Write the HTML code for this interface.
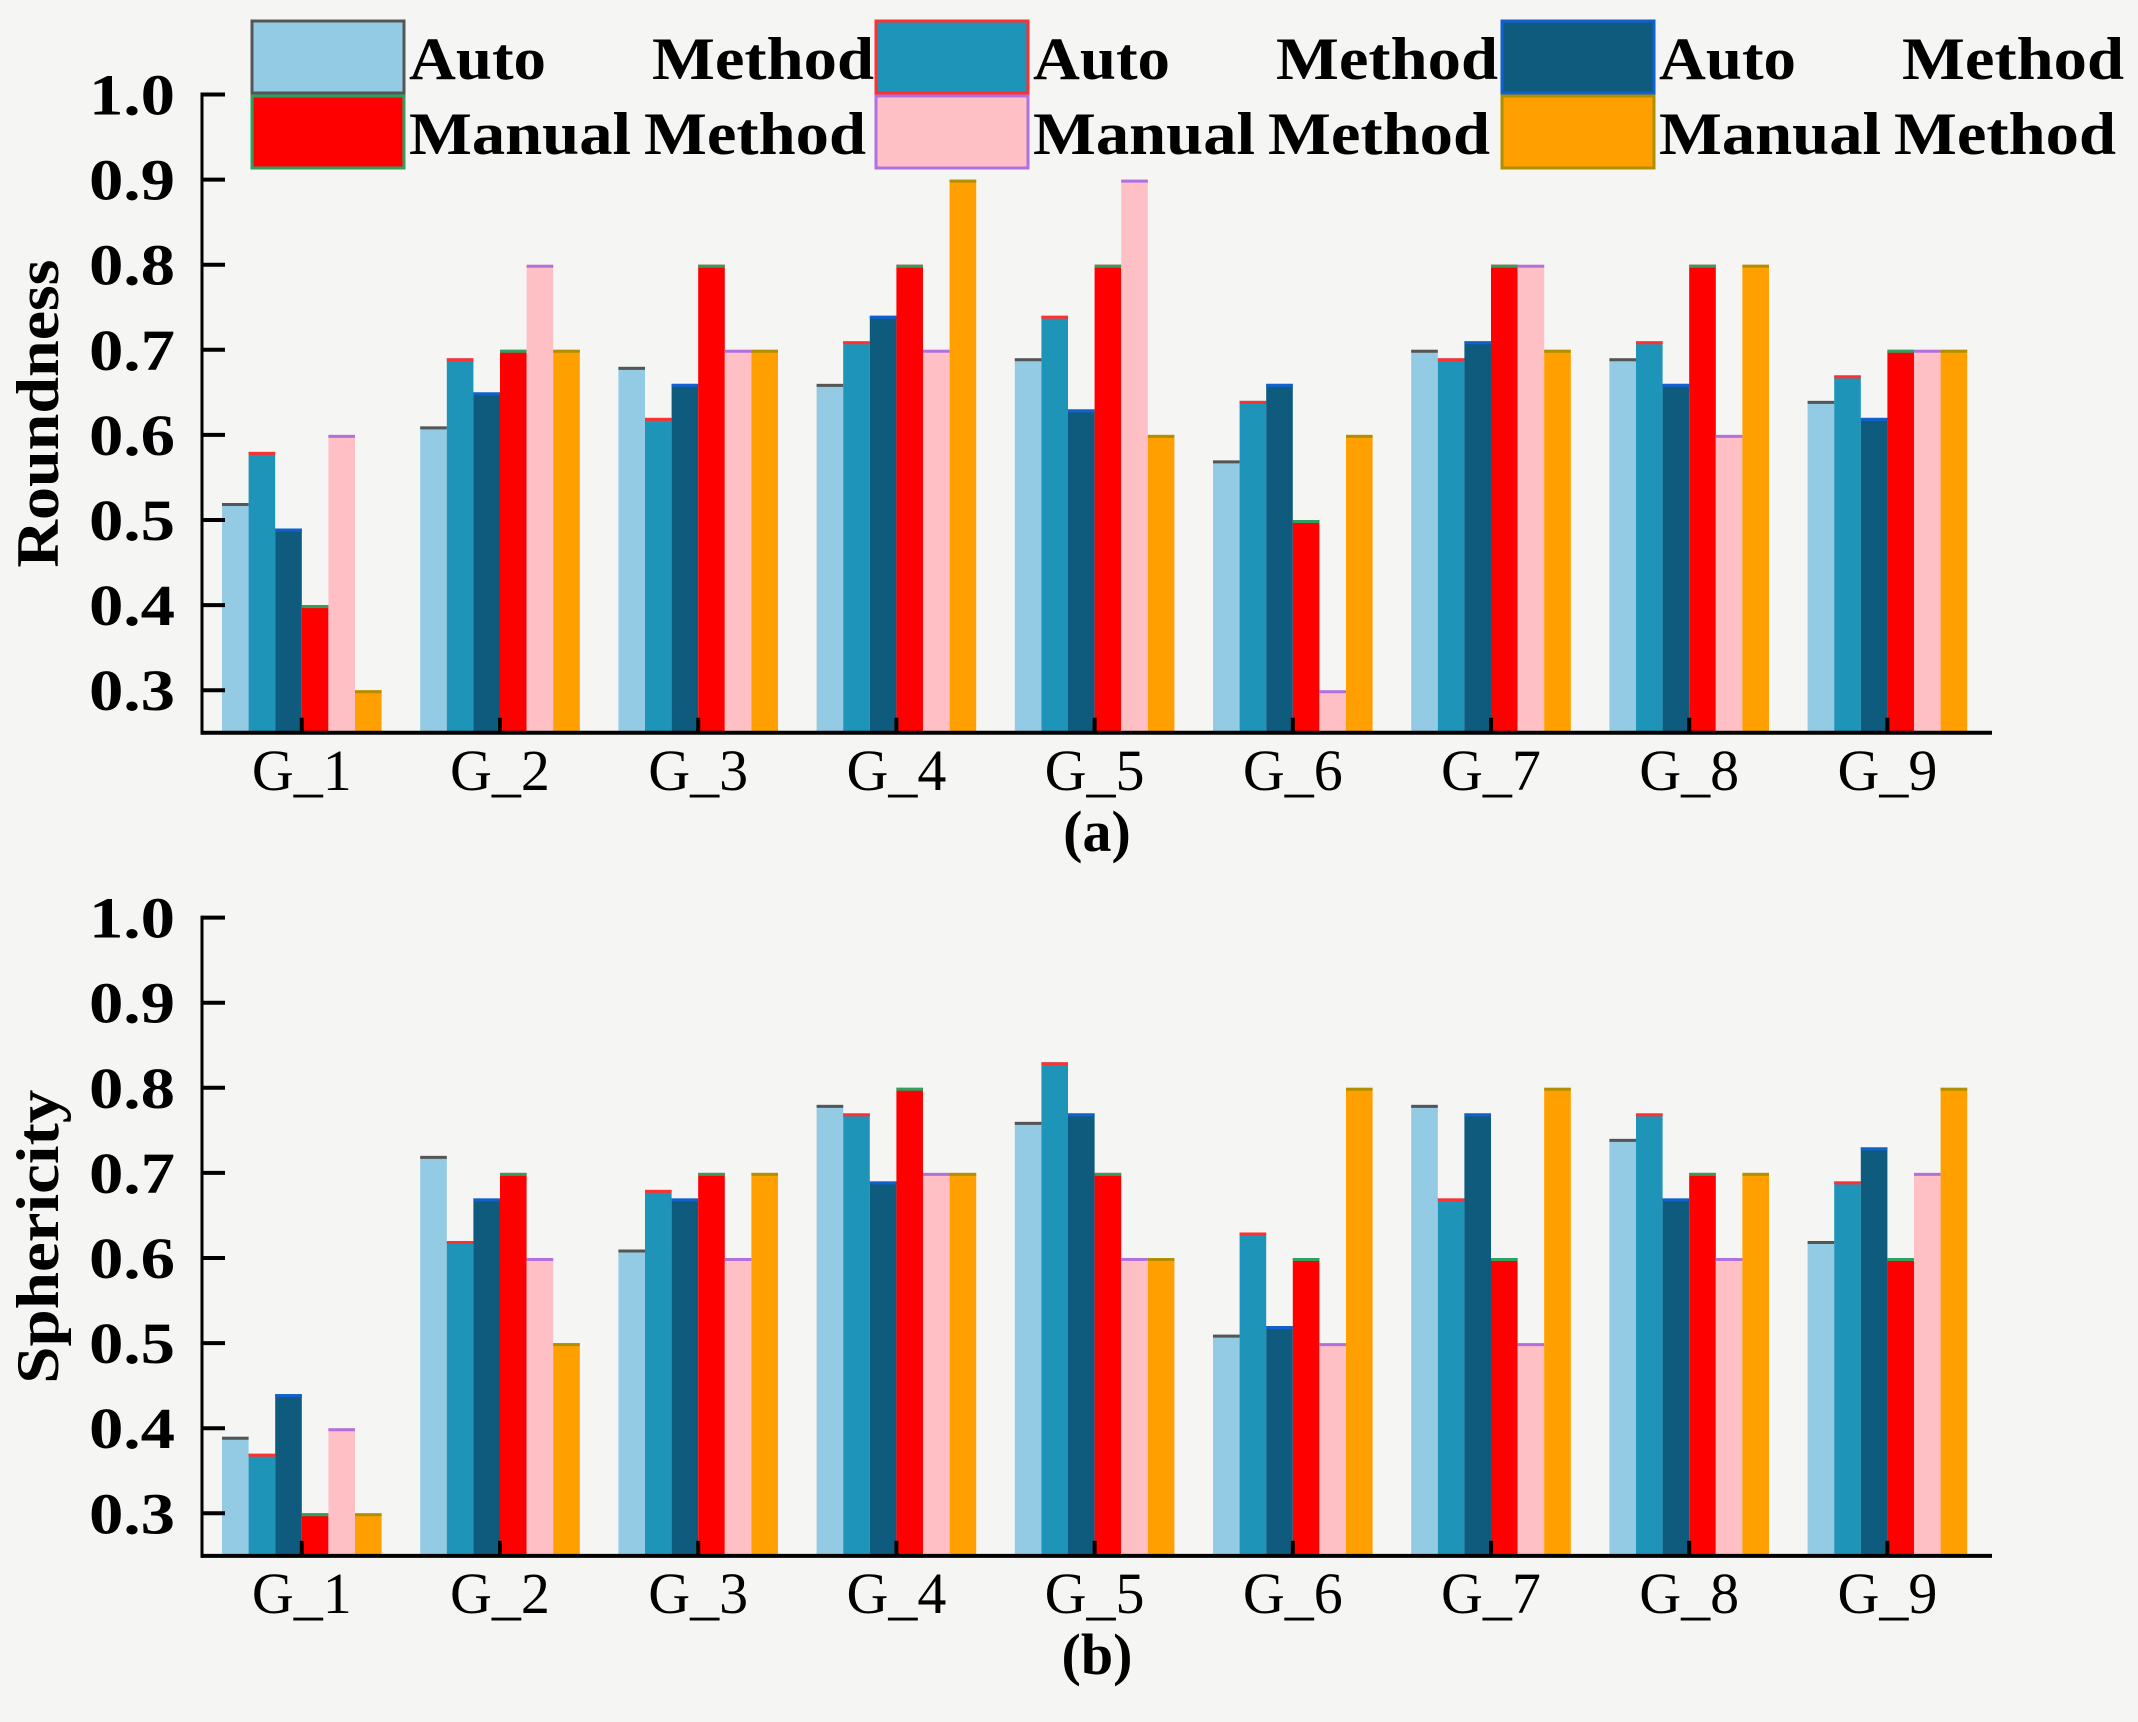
<!DOCTYPE html>
<html><head><meta charset="utf-8"><style>
html,body{margin:0;padding:0;background:#f5f5f3;}
svg{display:block;}
text{font-family:"Liberation Serif",serif;fill:#000;}
</style></head><body>
<svg id="fig" width="2138" height="1722" viewBox="0 0 2138 1722" xmlns="http://www.w3.org/2000/svg">
<rect x="0" y="0" width="2138" height="1722" fill="#f5f5f3"/>
<g id="legend"></g>
<g id="chartA"></g>
<g id="chartB"></g>
</svg>
<script>
const categories = ["G_1","G_2","G_3","G_4","G_5","G_6","G_7","G_8","G_9"];
const seriesNames = ["Auto Method 1","Auto Method 2","Auto Method 3","Manual Method 1","Manual Method 2","Manual Method 3"];
const yTicks = [0.3,0.4,0.5,0.6,0.7,0.8,0.9,1.0];
const roundAuto1 = [0.52,0.61,0.68,0.66,0.69,0.57,0.70,0.69,0.64];
const roundAuto2 = [0.58,0.69,0.62,0.71,0.74,0.64,0.69,0.71,0.67];
const roundAuto3 = [0.49,0.65,0.66,0.74,0.63,0.66,0.71,0.66,0.62];
const roundMan1  = [0.40,0.70,0.80,0.80,0.80,0.50,0.80,0.80,0.70];
const roundMan2  = [0.60,0.80,0.70,0.70,0.90,0.30,0.80,0.60,0.70];
const roundMan3  = [0.30,0.70,0.70,0.90,0.60,0.60,0.70,0.80,0.70];
const sphAuto1 = [0.39,0.72,0.61,0.78,0.76,0.51,0.78,0.74,0.62];
const sphAuto2 = [0.37,0.62,0.68,0.77,0.83,0.63,0.67,0.77,0.69];
const sphAuto3 = [0.44,0.67,0.67,0.69,0.77,0.52,0.77,0.67,0.73];
const sphMan1  = [0.30,0.70,0.70,0.80,0.70,0.60,0.60,0.70,0.60];
const sphMan2  = [0.40,0.60,0.60,0.70,0.60,0.50,0.50,0.60,0.70];
const sphMan3  = [0.30,0.50,0.70,0.70,0.60,0.80,0.80,0.70,0.80];

const fills = ["#94cbe4","#1e94b8","#0e5b7d","#ff0000","#ffc0c5","#ffa000"];
const strokes = ["#555555","#ff3030","#1060d0","#30a060","#b070e0","#b09000"];
const NS = "http://www.w3.org/2000/svg";
function el(tag, attrs, parent){const e=document.createElementNS(NS,tag);for(const k in attrs)e.setAttribute(k,attrs[k]);parent.appendChild(e);return e;}

const axisX = 202, axisRight = 1992, groupStart = 222, groupPitch = 198.2, barW = 26.6;
const yMin = 0.25, pxPer = 851;
function xBar(g, s){return groupStart + g*groupPitch + s*barW;}

function drawChart(gEl, top, series, title, titleLen, letter, key){
  const base = top + (1.0 - yMin)*pxPer;
  const y = v => base - (v - yMin)*pxPer;
  series.forEach((vals, s) => {
    vals.forEach((v, g) => {
      const r = el('rect',{x:xBar(g,s),y:y(v),width:barW,height:base-y(v),fill:fills[s]},gEl);
      
      
      const t = el('line',{x1:xBar(g,s),x2:xBar(g,s)+barW,y1:y(v)+1.5,y2:y(v)+1.5,stroke:strokes[s],'stroke-width':3},gEl);
      
      
    });
  });
  const ya = el('line',{x1:axisX,x2:axisX,y1:y(1.0)-2,y2:base+2,stroke:'#000','stroke-width':3},gEl);
  
  
  const xa = el('line',{x1:axisX,x2:axisRight,y1:base,y2:base,stroke:'#000','stroke-width':4},gEl);
  
  
  yTicks.forEach(v => {
    const tk = el('line',{x1:axisX,x2:axisX+23,y1:y(v),y2:y(v),stroke:'#000','stroke-width':4},gEl);
    
    
    const lb = el('text',{x:89,y:y(v)+20,'font-size':58,'font-weight':'bold',textLength:86,lengthAdjust:'spacingAndGlyphs'},gEl);
    lb.textContent = v.toFixed(1);
    
    
  });
  categories.forEach((c, g) => {
    const cx = groupStart + g*groupPitch + 3*barW;
    const tk = el('line',{x1:cx,x2:cx,y1:base,y2:base-15,stroke:'#000','stroke-width':4},gEl);
    
    
    const lb = el('text',{x:cx,y:base+57,'text-anchor':'middle','font-size':58},gEl);
    lb.textContent = c;
    
    
  });
  const cy = (y(1.0)+base)/2;
  const yt = el('text',{x:-titleLen/2,y:0,'font-size':60,'font-weight':'bold',textLength:titleLen,lengthAdjust:'spacingAndGlyphs',transform:'translate(58,'+cy+') rotate(-90)'},gEl);
  yt.textContent = title;
  
  
  const cap = el('text',{x:1097,y:base+118,'text-anchor':'middle','font-size':58,'font-weight':'bold'},gEl);
  cap.textContent = letter;
  
  
}

drawChart(document.getElementById('chartA'), 94.5, [roundAuto1,roundAuto2,roundAuto3,roundMan1,roundMan2,roundMan3], 'Roundness', 308, '(a)', 'roundness');
drawChart(document.getElementById('chartB'), 917.6, [sphAuto1,sphAuto2,sphAuto3,sphMan1,sphMan2,sphMan3], 'Sphericity', 294, '(b)', 'sphericity');

const lg = document.getElementById('legend');
const legCols = [252, 876, 1502];
for (let i=0;i<6;i++){
  const col = i%3, row = Math.floor(i/3);
  const x = legCols[col], yy = row===0 ? 21 : 96;
  const sw = el('rect',{x:x,y:yy,width:152,height:72,fill:fills[i],stroke:strokes[i],'stroke-width':3},lg);
  
  
  const w1 = el('text',{x:x+157,y:yy+58,'font-size':60,'font-weight':'bold',textLength:(row===0?137:222),lengthAdjust:'spacingAndGlyphs'},lg);
  w1.textContent = row===0 ? 'Auto' : 'Manual';
  
  
  const w2 = el('text',{x:x+(row===0?400:392),y:yy+58,'font-size':60,'font-weight':'bold',textLength:222,lengthAdjust:'spacingAndGlyphs'},lg);
  w2.textContent = 'Method';
  
  
}
</script>
</body></html>
